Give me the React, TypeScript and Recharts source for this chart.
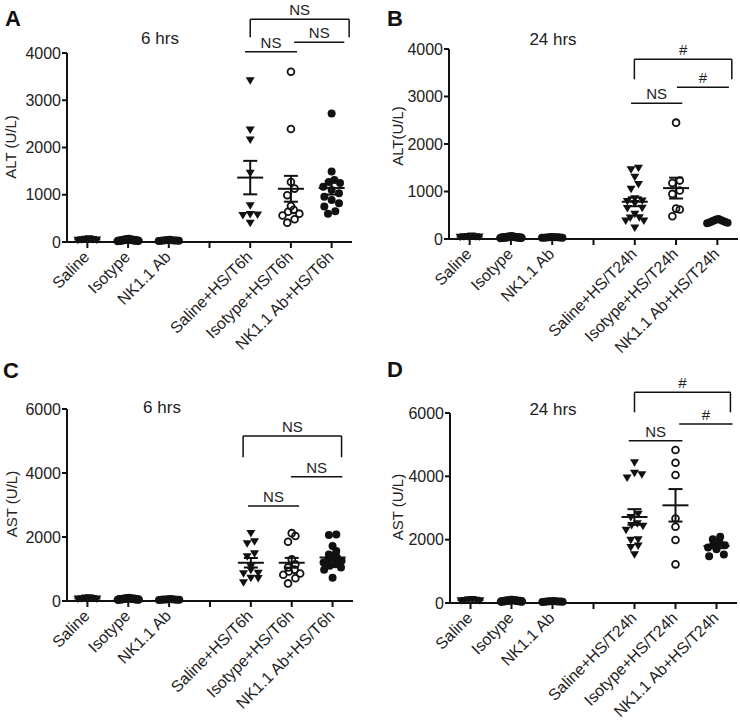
import React from "react";
import { ScatterChart, Scatter, XAxis, YAxis, ErrorBar, ReferenceLine } from "recharts";

// group order: Saline, Isotype, NK1.1 Ab, (gap), Saline+HS, Isotype+HS, NK1.1 Ab+HS
const categories6h = ["Saline", "Isotype", "NK1.1 Ab", "", "Saline+HS/T6h", "Isotype+HS/T6h", "NK1.1 Ab+HS/T6h"];
const categories24h = ["Saline", "Isotype", "NK1.1 Ab", "", "Saline+HS/T24h", "Isotype+HS/T24h", "NK1.1 Ab+HS/T24h"];
const groupSlots = [0, 1, 2, 4, 5, 6];

// ALT 6 hrs
const altSaline6 = [55, 40, 70, 35, 60, 45];
const altIsotype6 = [30, 45, 25, 50, 35, 60, 40, 20, 55, 30, 45, 38, 28, 50];
const altNk6 = [30, 25, 40, 35, 20, 45, 30, 38, 28, 33];
const altSalineHS6 = [3413, 2370, 2158, 1453, 769, 580, 570, 560, 395];
const altIsotypeHS6 = [3604, 2391, 1270, 1130, 990, 760, 680, 640, 600, 560, 480, 410];
const altNkHS6 = [2720, 1490, 1310, 1270, 1250, 1170, 1100, 1030, 960, 890, 820, 750, 650, 600];

// ALT 24 hrs
const altSaline24 = [50, 35, 65, 45, 55, 40];
const altIsotype24 = [25, 40, 30, 50, 35, 55, 45, 20, 30, 42, 38, 28, 48, 33];
const altNk24 = [35, 28, 42, 30, 25, 38, 32, 40, 27, 36];
const altSalineHS24 = [1490, 1460, 1300, 1150, 1050, 850, 800, 790, 750, 650, 640, 520, 450, 440, 380, 380, 230];
const altIsotypeHS24 = [2450, 1230, 1180, 1020, 950, 640, 620, 480];
const altNkHS24 = [400, 380, 360, 420, 340, 370, 390, 350, 410, 330];

// AST 6 hrs
const astSaline6 = [80, 60, 100, 70, 90, 65];
const astIsotype6 = [50, 70, 60, 90, 40, 80, 55, 75, 65, 45, 85, 60, 50, 70];
const astNk6 = [40, 55, 35, 60, 45, 50, 38, 52, 48, 42];
const astSalineHS6 = [2110, 1850, 1790, 1480, 1380, 1070, 960, 870, 850, 710, 700, 570];
const astIsotypeHS6 = [2120, 2030, 1850, 1300, 1150, 1050, 980, 920, 860, 820, 710, 550];
const astNkHS6 = [2080, 2060, 1720, 1560, 1450, 1400, 1350, 1300, 1260, 1200, 1150, 1100, 1050, 980, 730];

// AST 24 hrs
const astSaline24 = [90, 70, 110, 80, 100, 75];
const astIsotype24 = [60, 80, 50, 95, 70, 85, 55, 75, 65, 90, 45, 70, 60, 80];
const astNk24 = [45, 60, 40, 55, 50, 35, 58, 42, 48, 52];
const astSalineHS24 = [4430, 4100, 4050, 3950, 2800, 2700, 2500, 2450, 2420, 2300, 2000, 1980, 1800, 1750, 1520];
const astIsotypeHS24 = [4830, 4430, 4040, 2670, 2410, 1990, 1220];
const astNkHS24 = [2090, 2010, 1950, 1880, 1820, 1750, 1700, 1530, 1480];

const altTicks = [0, 1000, 2000, 3000, 4000];
const astTicks = [0, 2000, 4000, 6000];

type Bracket = { x1: number; x2: number; y: number; legY?: number; label: string };

const bracketsA: Bracket[] = [
  { x1: 4.0, x2: 6.43, y: 4712, legY: 4331, label: "NS" },
  { x1: 5.08, x2: 6.31, y: 4226, label: "NS" },
  { x1: 3.87, x2: 5.15, y: 4027, label: "NS" },
];
const bracketsB: Bracket[] = [
  { x1: 3.99, x2: 6.35, y: 3783, legY: 3361, label: "#" },
  { x1: 5.02, x2: 6.28, y: 3193, label: "#" },
  { x1: 3.91, x2: 5.15, y: 2856, label: "NS" },
];
const bracketsC: Bracket[] = [
  { x1: 3.81, x2: 6.22, y: 5156, legY: 4490, label: "NS" },
  { x1: 4.98, x2: 6.24, y: 3885, label: "NS" },
  { x1: 3.93, x2: 5.18, y: 2969, label: "NS" },
];
const bracketsD: Bracket[] = [
  { x1: 4.0, x2: 6.34, y: 6654, legY: 6022, label: "#" },
  { x1: 5.09, x2: 6.39, y: 5653, label: "#" },
  { x1: 3.86, x2: 5.17, y: 5126, label: "NS" },
];

const INK = "#111";

const mean = (a: number[]) => a.reduce((s, v) => s + v, 0) / a.length;
const sem = (a: number[]) => {
  const m = mean(a);
  const sd = Math.sqrt(a.reduce((s, v) => s + (v - m) * (v - m), 0) / (a.length - 1));
  return sd / Math.sqrt(a.length);
};

// spread points with close values sideways, like a column scatter
function swarm(values: number[], thr: number) {
  const order = values.map((_, i) => i).sort((a, b) => values[a] - values[b]);
  const offs = new Array(values.length).fill(0);
  let start = 0;
  while (start < order.length) {
    let end = start;
    while (end + 1 < order.length && values[order[end + 1]] - values[order[start]] <= thr) end++;
    const k = end - start + 1;
    const step = Math.min(0.18, 0.55 / k);
    for (let j = 0; j < k; j++) {
      const slot = j % 2 === 0 ? j / 2 : k - 1 - (j - 1) / 2;
      offs[order[start + j]] = (slot - (k - 1) / 2) * step;
    }
    start = end + 1;
  }
  return offs;
}

const Tri = (p: any) => (
  <path d={`M${p.cx - 4.5},${p.cy - 3.5}L${p.cx + 4.5},${p.cy - 3.5}L${p.cx},${p.cy + 4}Z`} fill={INK} />
);
const Ring = (p: any) => <circle cx={p.cx} cy={p.cy} r={3.4} fill="none" stroke={INK} strokeWidth={1.8} />;
const Dot = (p: any) => <circle cx={p.cx} cy={p.cy} r={4} fill={INK} />;
const MeanLine = (p: any) => (
  <line x1={p.cx - 13} x2={p.cx + 13} y1={p.cy} y2={p.cy} stroke={INK} strokeWidth={2} />
);

const CatTick = (props: any) => {
  const { x, y, payload, categories } = props;
  const label = categories[payload.value];
  if (!label) return <g />;
  return (
    <text
      x={0}
      y={0}
      transform={`translate(${x + 3},${y + 8}) rotate(-45)`}
      textAnchor="end"
      fontSize={16}
      fill="#222"
    >
      {label}
    </text>
  );
};

type PanelProps = {
  left: number;
  top: number;
  width: number;
  height: number;
  margin: { top: number; right: number; bottom: number; left: number };
  yAxisWidth: number;
  yMax: number;
  yTicks: number[];
  categories: string[];
  groups: number[][];
  brackets: Bracket[];
};

function Panel({ left, top, width, height, margin, yAxisWidth, yMax, yTicks, categories, groups, brackets }: PanelProps) {
  const plotH = height - margin.top - margin.bottom - 30;
  const thr = (7 * yMax) / plotH;
  const rows = (gi: number[]) =>
    gi.flatMap((g) => {
      const offs = swarm(groups[g], thr);
      return groups[g].map((v, i) => ({ x: groupSlots[g] + offs[i], y: v }));
    });
  const summary = groups.map((vals, g) => ({ x: groupSlots[g], y: mean(vals), sem: sem(vals) }));

  return (
    <div style={{ position: "absolute", left, top }}>
      <ScatterChart width={width} height={height} margin={margin}>
        <XAxis
          type="number"
          dataKey="x"
          domain={[-0.5, 6.5]}
          ticks={[0, 1, 2, 3, 4, 5, 6]}
          interval={0}
          height={30}
          tickSize={6}
          axisLine={{ stroke: INK, strokeWidth: 2 }}
          tickLine={{ stroke: INK, strokeWidth: 2 }}
          tick={(p: any) => <CatTick {...p} categories={categories} />}
        />
        <YAxis
          type="number"
          dataKey="y"
          domain={[0, yMax]}
          ticks={yTicks}
          interval={0}
          width={yAxisWidth}
          tickSize={5}
          tickMargin={1}
          axisLine={{ stroke: INK, strokeWidth: 2 }}
          tickLine={{ stroke: INK, strokeWidth: 2 }}
          tick={{ fill: "#222", fontSize: 16 }}
        />
        <Scatter data={rows([0, 3])} shape={Tri} isAnimationActive={false} />
        <Scatter data={rows([1, 4])} shape={Ring} isAnimationActive={false} />
        <Scatter data={rows([2, 5])} shape={Dot} isAnimationActive={false} />
        <Scatter data={summary} shape={MeanLine} isAnimationActive={false}>
          <ErrorBar dataKey="sem" direction="y" width={7} stroke={INK} strokeWidth={2} />
        </Scatter>
        {brackets.flatMap((b, i) => {
          const els = [
            <ReferenceLine
              key={`h${i}`}
              segment={[{ x: b.x1, y: b.y }, { x: b.x2, y: b.y }]}
              stroke={INK}
              strokeWidth={1.5}
              ifOverflow="visible"
              label={{ value: b.label, position: "top", offset: 4, fontSize: 15, fill: "#222" }}
            />,
          ];
          if (b.legY !== undefined) {
            els.push(
              <ReferenceLine key={`l${i}`} segment={[{ x: b.x1, y: b.y }, { x: b.x1, y: b.legY }]} stroke={INK} strokeWidth={1.5} ifOverflow="visible" />,
              <ReferenceLine key={`r${i}`} segment={[{ x: b.x2, y: b.y }, { x: b.x2, y: b.legY }]} stroke={INK} strokeWidth={1.5} ifOverflow="visible" />
            );
          }
          return els;
        })}
      </ScatterChart>
    </div>
  );
}

export default function App() {
  return (
    <div
      style={{
        position: "absolute",
        left: 0,
        top: 0,
        width: 740,
        height: 723,
        background: "#fff",
        fontFamily: "'Liberation Sans', Arial, sans-serif",
        overflow: "hidden",
      }}
    >
      <Panel
        left={0}
        top={0}
        width={370}
        height={368}
        margin={{ top: 53, right: 18, bottom: 96, left: 0 }}
        yAxisWidth={67}
        yMax={4000}
        yTicks={altTicks}
        categories={categories6h}
        groups={[altSaline6, altIsotype6, altNk6, altSalineHS6, altIsotypeHS6, altNkHS6]}
        brackets={bracketsA}
      />
      <Panel
        left={370}
        top={0}
        width={370}
        height={368}
        margin={{ top: 49, right: 2, bottom: 99, left: 0 }}
        yAxisWidth={79}
        yMax={4000}
        yTicks={altTicks}
        categories={categories24h}
        groups={[altSaline24, altIsotype24, altNk24, altSalineHS24, altIsotypeHS24, altNkHS24]}
        brackets={bracketsB}
      />
      <Panel
        left={0}
        top={345}
        width={370}
        height={378}
        margin={{ top: 64, right: 17, bottom: 92, left: 0 }}
        yAxisWidth={67}
        yMax={6000}
        yTicks={astTicks}
        categories={categories6h}
        groups={[astSaline6, astIsotype6, astNk6, astSalineHS6, astIsotypeHS6, astNkHS6]}
        brackets={bracketsC}
      />
      <Panel
        left={370}
        top={345}
        width={370}
        height={378}
        margin={{ top: 68, right: 3, bottom: 90, left: 0 }}
        yAxisWidth={80}
        yMax={6000}
        yTicks={astTicks}
        categories={categories24h}
        groups={[astSaline24, astIsotype24, astNk24, astSalineHS24, astIsotypeHS24, astNkHS24]}
        brackets={bracketsD}
      />
      <svg width={740} height={723} style={{ position: "absolute", left: 0, top: 0, pointerEvents: "none" }}>
        <g fill="#111" fontWeight="bold" fontSize={22}>
          <text x={5} y={26}>A</text>
          <text x={387} y={26}>B</text>
          <text x={3} y={378}>C</text>
          <text x={387} y={377}>D</text>
        </g>
        <g fill="#222" fontSize={17} textAnchor="middle">
          <text x={160} y={44}>6 hrs</text>
          <text x={553} y={45}>24 hrs</text>
          <text x={162} y={413}>6 hrs</text>
          <text x={553} y={415}>24 hrs</text>
        </g>
        <g fill="#222" fontSize={15} textAnchor="middle" dominantBaseline="central">
          <text transform="translate(10,147) rotate(-90)">ALT (U/L)</text>
          <text transform="translate(397,136) rotate(-90)">ALT(U/L)</text>
          <text transform="translate(11,504) rotate(-90)">AST (U/L)</text>
          <text transform="translate(397,507) rotate(-90)">AST (U/L)</text>
        </g>
      </svg>
    </div>
  );
}
